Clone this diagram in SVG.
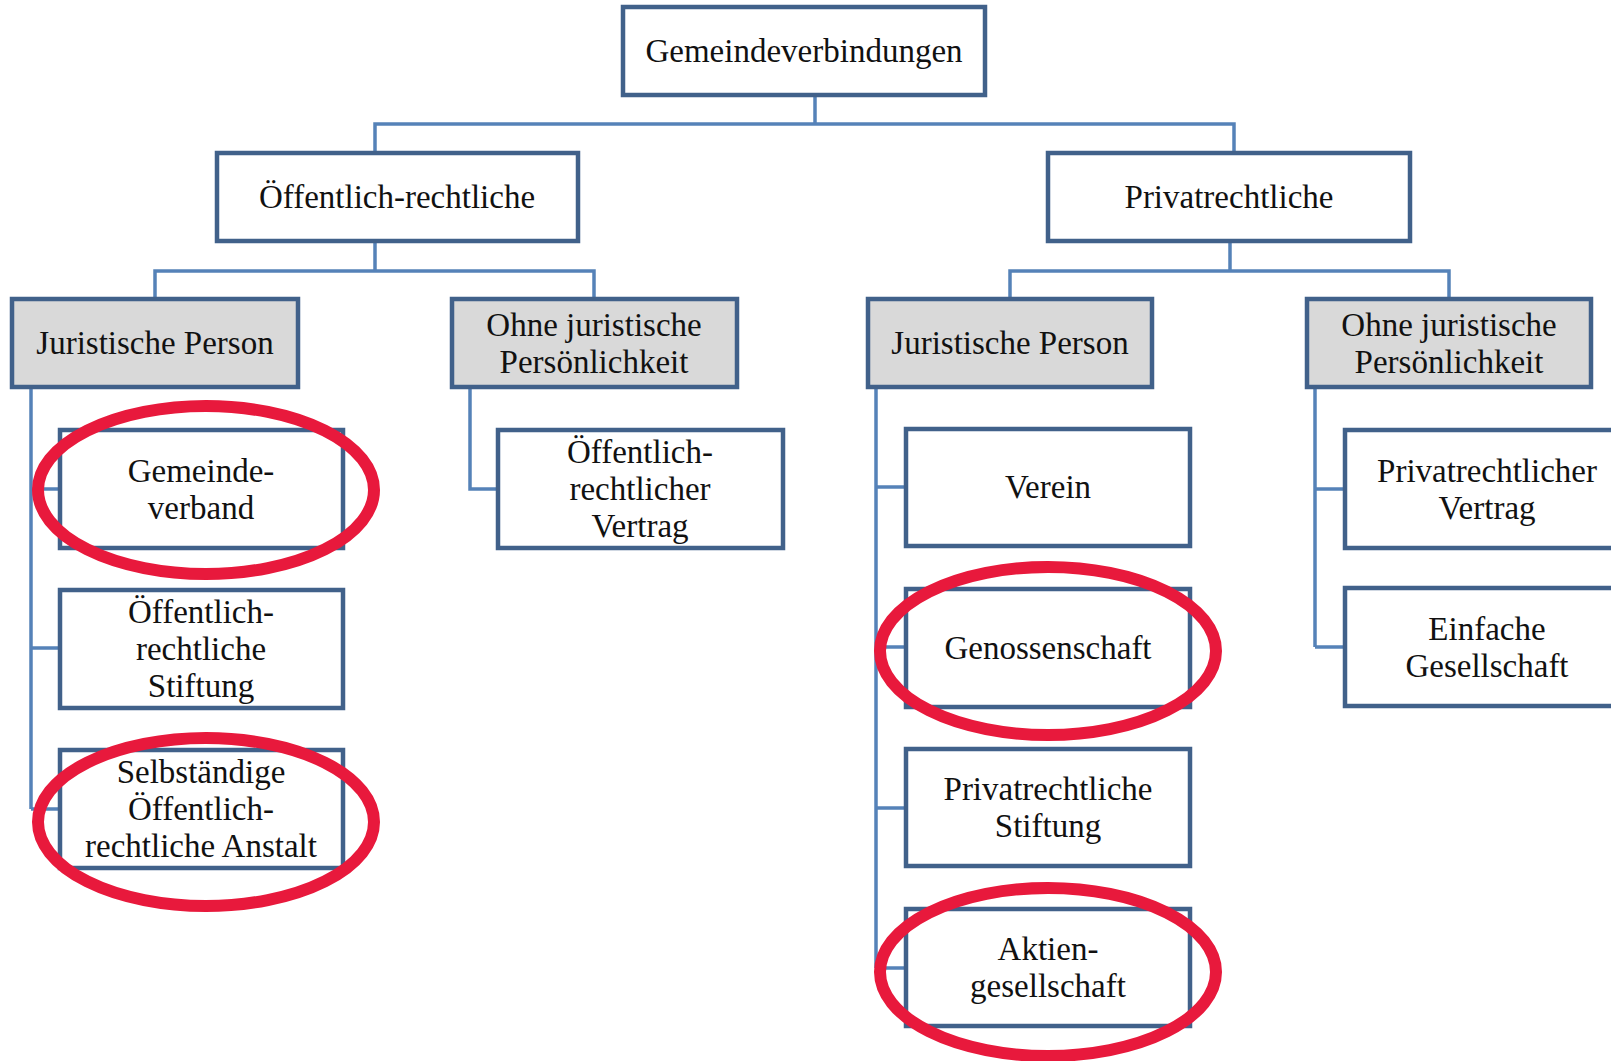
<svg xmlns="http://www.w3.org/2000/svg" width="1611" height="1061" viewBox="0 0 1611 1061">
<style>
.box{fill:#ffffff;stroke:#41618a;stroke-width:4.5}
.gray{fill:#d9d9d9;stroke:#41618a;stroke-width:4.5}
.conn{fill:none;stroke:#5582b8;stroke-width:3.5}
.t{font-family:"Liberation Serif","Times New Roman",serif;font-size:33px;fill:#111;text-anchor:middle}
.mark{fill:none;stroke:#e8193c;stroke-width:12}
</style>
<rect width="1611" height="1061" fill="#ffffff"/>
<g id="connectors">
<path class="conn" d="M815 97V124M375 153V124H1234V153"/>
<path class="conn" d="M375 241V271M155 299V271H594V299"/>
<path class="conn" d="M1230 241V271M1010 299V271H1449V299"/>
<path class="conn" d="M31 387V809M31 489H60M31 648H60M31 809H60"/>
<path class="conn" d="M470 387V489H498"/>
<path class="conn" d="M876 387V968M876 487H906M876 647H906M876 808H906M876 968H906"/>
<path class="conn" d="M1315 387V647M1315 489H1345M1315 647H1345"/>
</g>
<g id="n-root"><rect class="box" x="623" y="7" width="362" height="88"/><text class="t" x="804" y="62">Gemeindeverbindungen</text></g>
<g id="n-oeff"><rect class="box" x="217" y="153" width="361" height="88"/><text class="t" x="397" y="208">Öffentlich-rechtliche</text></g>
<g id="n-priv"><rect class="box" x="1048" y="153" width="362" height="88"/><text class="t" x="1229" y="208">Privatrechtliche</text></g>
<g id="n-jp1"><rect class="gray" x="12" y="299" width="286" height="88"/><text class="t" x="155" y="354">Juristische Person</text></g>
<g id="n-ohne1"><rect class="gray" x="452" y="299" width="285" height="88"/><text class="t" x="594" y="336">Ohne juristische</text><text class="t" x="594" y="373">Persönlichkeit</text></g>
<g id="n-jp2"><rect class="gray" x="868" y="299" width="284" height="88"/><text class="t" x="1010" y="354">Juristische Person</text></g>
<g id="n-ohne2"><rect class="gray" x="1307" y="299" width="284" height="88"/><text class="t" x="1449" y="336">Ohne juristische</text><text class="t" x="1449" y="373">Persönlichkeit</text></g>
<g id="n-gv"><rect class="box" x="60" y="430" width="283" height="118"/><text class="t" x="201" y="482">Gemeinde-</text><text class="t" x="201" y="519">verband</text></g>
<g id="n-ors"><rect class="box" x="60" y="590" width="283" height="118"/><text class="t" x="201" y="623">Öffentlich-</text><text class="t" x="201" y="660">rechtliche</text><text class="t" x="201" y="697">Stiftung</text></g>
<g id="n-soa"><rect class="box" x="60" y="750" width="283" height="118"/><text class="t" x="201" y="783">Selbständige</text><text class="t" x="201" y="820">Öffentlich-</text><text class="t" x="201" y="857">rechtliche Anstalt</text></g>
<g id="n-orv"><rect class="box" x="498" y="430" width="285" height="118"/><text class="t" x="640" y="463">Öffentlich-</text><text class="t" x="640" y="500">rechtlicher</text><text class="t" x="640" y="537">Vertrag</text></g>
<g id="n-verein"><rect class="box" x="906" y="429" width="284" height="117"/><text class="t" x="1048" y="498">Verein</text></g>
<g id="n-gen"><rect class="box" x="906" y="589" width="284" height="118"/><text class="t" x="1048" y="659">Genossenschaft</text></g>
<g id="n-prs"><rect class="box" x="906" y="749" width="284" height="117"/><text class="t" x="1048" y="800">Privatrechtliche</text><text class="t" x="1048" y="837">Stiftung</text></g>
<g id="n-ag"><rect class="box" x="906" y="909" width="284" height="117"/><text class="t" x="1048" y="960">Aktien-</text><text class="t" x="1048" y="997">gesellschaft</text></g>
<g id="n-prv"><rect class="box" x="1345" y="430" width="285" height="118"/><text class="t" x="1487" y="482">Privatrechtlicher</text><text class="t" x="1487" y="519">Vertrag</text></g>
<g id="n-eg"><rect class="box" x="1345" y="588" width="285" height="118"/><text class="t" x="1487" y="640">Einfache</text><text class="t" x="1487" y="677">Gesellschaft</text></g>
<g id="highlights">
<ellipse class="mark" cx="206" cy="490" rx="168" ry="84"/>
<ellipse class="mark" cx="206" cy="822" rx="168" ry="84"/>
<ellipse class="mark" cx="1048" cy="651" rx="168" ry="84"/>
<ellipse class="mark" cx="1048" cy="972" rx="168" ry="84"/>
</g>
</svg>
